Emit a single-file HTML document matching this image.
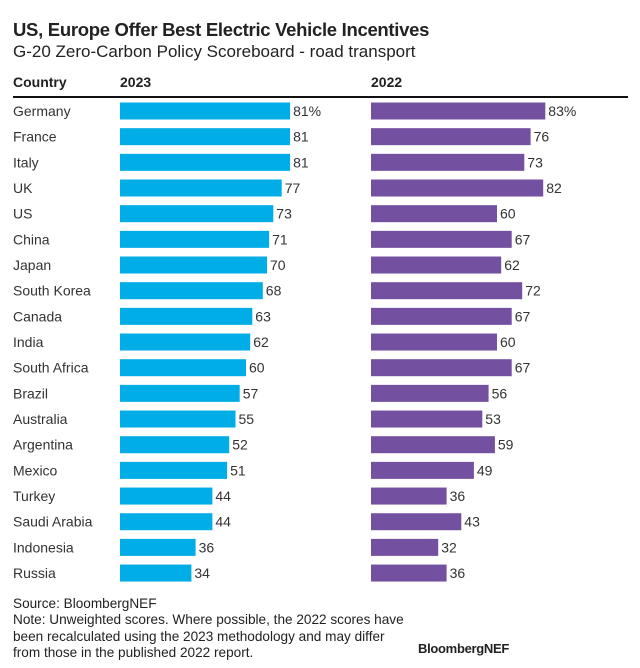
<!DOCTYPE html>
<html><head><meta charset="utf-8"><style>
body{margin:0;background:#fff;font-family:"Liberation Sans",sans-serif;color:#222}
#c{position:relative;width:640px;height:668px;overflow:hidden}
.t{position:absolute;white-space:nowrap}
</style></head><body>
<div id="c">
<div class="t" style="left:13px;top:19px;font-size:18.5px;font-weight:bold;letter-spacing:-0.3px">US, Europe Offer Best Electric Vehicle Incentives</div>
<div class="t" style="left:13px;top:42px;font-size:17px">G-20 Zero-Carbon Policy Scoreboard - road transport</div>
<div class="t" style="left:13px;top:74px;font-size:14px;font-weight:bold">Country</div>
<div class="t" style="left:120px;top:74px;font-size:14px;font-weight:bold">2023</div>
<div class="t" style="left:371px;top:74px;font-size:14px;font-weight:bold">2022</div>
<div style="position:absolute;left:13px;top:96px;width:615px;height:2px;background:#111"></div>
<svg id="s" width="640" height="668" style="position:absolute;left:0;top:0"></svg>
<div class="t" style="left:13px;top:596px;font-size:13.6px;line-height:16.3px">Source: BloombergNEF<br>Note: Unweighted scores. Where possible, the 2022 scores have<br>been recalculated using the 2023 methodology and may differ<br>from those in the published 2022 report.</div>
<div class="t" style="left:418px;top:641px;font-size:13px;font-weight:bold;letter-spacing:-0.3px">BloombergNEF</div>
</div>
<script>
const countries=["Germany","France","Italy","UK","US","China","Japan","South Korea","Canada","India","South Africa","Brazil","Australia","Argentina","Mexico","Turkey","Saudi Arabia","Indonesia","Russia"];
const scores2023=[81,81,81,77,73,71,70,68,63,62,60,57,55,52,51,44,44,36,34];
const scores2022=[83,76,73,82,60,67,62,72,67,60,67,56,53,59,49,36,43,32,36];
const NS="http://www.w3.org/2000/svg";
const svg=document.getElementById('s');
const y=i=>111+i*25.67;
const xs=v=>v*2.1;
function txt(x,yy,s,name,color){const t=document.createElementNS(NS,'text');t.setAttribute('x',x);t.setAttribute('y',yy+5);t.setAttribute('font-size','14');t.setAttribute('fill',color||'#333');t.setAttribute('font-family','Liberation Sans, sans-serif');t.textContent=s;


svg.appendChild(t);}
function bar(x0,i,v,col,name){const r=document.createElementNS(NS,'rect');r.setAttribute('x',x0);r.setAttribute('y',y(i)-8.5);r.setAttribute('width',xs(v));r.setAttribute('height',17);r.setAttribute('fill',col);


svg.appendChild(r);}
countries.forEach((c,i)=>{
txt(13,y(i),c,'country-label','#333');
bar(120,i,scores2023[i],'#00ade6','bar-2023');
txt(120+xs(scores2023[i])+3,y(i),scores2023[i]+(i==0?'%':''),'value-2023');
bar(371,i,scores2022[i],'#7450a0','bar-2022');
txt(371+xs(scores2022[i])+3,y(i),scores2022[i]+(i==0?'%':''),'value-2022');
});
</script>
</body></html>
